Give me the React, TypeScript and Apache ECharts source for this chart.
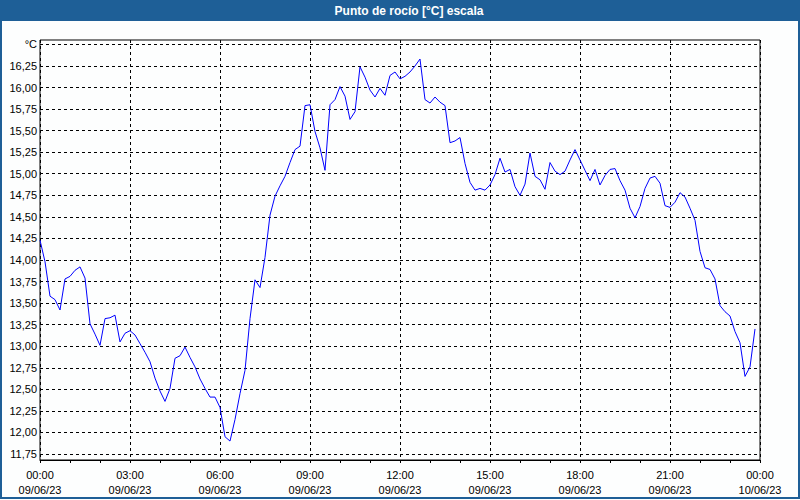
import React, { useEffect, useRef } from "react";
import * as echarts from "echarts";

// minutes since 09/06/23 00:00, every 10 minutes
const stepMinutes = 10;
const dewPoint: number[] = [
  14.23, 13.98, 13.58, 13.54, 13.42, 13.78, 13.81, 13.88, 13.92, 13.79,
  13.26, 13.14, 13.01, 13.32, 13.33, 13.36, 13.05, 13.15, 13.18, 13.13,
  13.03, 12.93, 12.82, 12.63, 12.48, 12.36, 12.51, 12.86, 12.89, 12.99,
  12.87, 12.76, 12.62, 12.51, 12.41, 12.41, 12.29, 11.95, 11.90, 12.15,
  12.45, 12.72, 13.32, 13.77, 13.68, 14.03, 14.52, 14.74, 14.86, 14.97,
  15.13, 15.28, 15.32, 15.79, 15.80, 15.49, 15.30, 15.04, 15.80, 15.86,
  16.01, 15.90, 15.63, 15.72, 16.24, 16.12, 15.97, 15.89, 15.99, 15.91,
  16.14, 16.18, 16.10, 16.13, 16.18, 16.25, 16.33, 15.86, 15.82, 15.89,
  15.83, 15.79, 15.36, 15.38, 15.42, 15.12, 14.90, 14.81, 14.83, 14.81,
  14.87, 14.99, 15.18, 15.02, 15.05, 14.85, 14.75, 14.88, 15.24, 14.97,
  14.93, 14.82, 15.13, 15.03, 14.99, 15.03, 15.16, 15.28, 15.16, 15.04,
  14.92, 15.05, 14.87, 14.98, 15.05, 15.06, 14.92, 14.81, 14.60, 14.49,
  14.62, 14.83, 14.95, 14.97, 14.89, 14.63, 14.61, 14.67, 14.78, 14.73,
  14.60, 14.46, 14.10, 13.91, 13.89, 13.78, 13.47, 13.40, 13.35, 13.17,
  13.04, 12.65, 12.76, 13.20,
];
const dayLabels = ["09/06/23", "10/06/23"];
const titleText = "Punto de rocío [°C] escala";
const unitLabel = "°C";

const FONT = "'Liberation Sans', Arial, sans-serif";
const BLUE = "#1e5f97";

export default function App() {
  const ref = useRef<HTMLDivElement>(null);
  useEffect(() => {
    document.body.style.margin = "0";
    if (!ref.current) return;
    const chart = echarts.init(ref.current, null, { renderer: "svg" });
    const data = dewPoint.map((v, i) => [i * stepMinutes, v]);
    const pad = (n: number) => (n < 10 ? "0" + n : "" + n);
    chart.setOption({
      animation: false,
      backgroundColor: "#fdfefe",
      textStyle: { fontFamily: FONT },
      grid: [
        {
          left: 40, right: 40, top: 40, bottom: 40,
          show: true, borderColor: "#000", borderWidth: 1,
          backgroundColor: "transparent", containLabel: false,
        },
        { left: 40, right: 40, top: 44.4, bottom: 46, containLabel: false },
      ],
      xAxis: [
        {
          type: "value", gridIndex: 0, min: 0, max: 1440, interval: 180,
          axisLine: { show: true, lineStyle: { color: "#000", width: 1 } },
          axisTick: { show: true, length: 3, lineStyle: { color: "#000" } },
          minorTick: { show: true, splitNumber: 3, length: 3, lineStyle: { color: "#000" } },
          splitLine: { show: true, lineStyle: { color: "#000", type: [3, 3], width: 1 } },
          axisLabel: {
            show: true, margin: 7, color: "#000", fontSize: 11, fontFamily: FONT,
            lineHeight: 15, showMinLabel: true, showMaxLabel: true,
            formatter: (v: number) => {
              const day = Math.floor(v / 1440);
              const m = v % 1440;
              return pad(Math.floor(m / 60)) + ":" + pad(m % 60) + "\n" + dayLabels[day];
            },
          },
        },
        { type: "value", gridIndex: 1, min: 0, max: 1440, show: false },
      ],
      yAxis: [
        { type: "value", gridIndex: 0, min: 0, max: 1, show: false },
        {
          type: "value", gridIndex: 1, min: 11.75, max: 16.5, interval: 0.25,
          axisLine: { show: false }, axisTick: { show: false },
          splitLine: { show: true, lineStyle: { color: "#000", type: [3, 3], width: 1 } },
          axisLabel: {
            show: true, margin: 3, color: "#000", fontSize: 11, fontFamily: FONT,
            showMinLabel: true, showMaxLabel: true,
            formatter: (v: number) =>
              v >= 16.49 ? unitLabel : v.toFixed(2).replace(".", ","),
          },
        },
      ],
      series: [
        {
          type: "line", xAxisIndex: 1, yAxisIndex: 1, data,
          showSymbol: false, symbol: "none",
          lineStyle: { color: "#0000ff", width: 1 },
          itemStyle: { color: "#0000ff" },
          z: 5,
        },
      ],
      graphic: [
        {
          type: "rect", left: 0, top: 0, z: 10,
          shape: { x: 0, y: 0, width: 800, height: 21 },
          style: { fill: BLUE },
        },
        {
          type: "text", x: 409, y: 11, z: 11,
          style: {
            text: titleText, fill: "#fff", font: "bold 12px " + FONT,
            textAlign: "center", textVerticalAlign: "middle",
          },
        },
        {
          type: "rect", x: 0, y: 0, z: 10, silent: true,
          shape: { x: 1, y: 1, width: 798, height: 497 },
          style: { fill: "none", stroke: BLUE, lineWidth: 2 },
        },
      ],
    });
    return () => chart.dispose();
  }, []);
  return (
    <div
      ref={ref}
      style={{ width: 800, height: 500, position: "fixed", left: 0, top: 0 }}
    />
  );
}
